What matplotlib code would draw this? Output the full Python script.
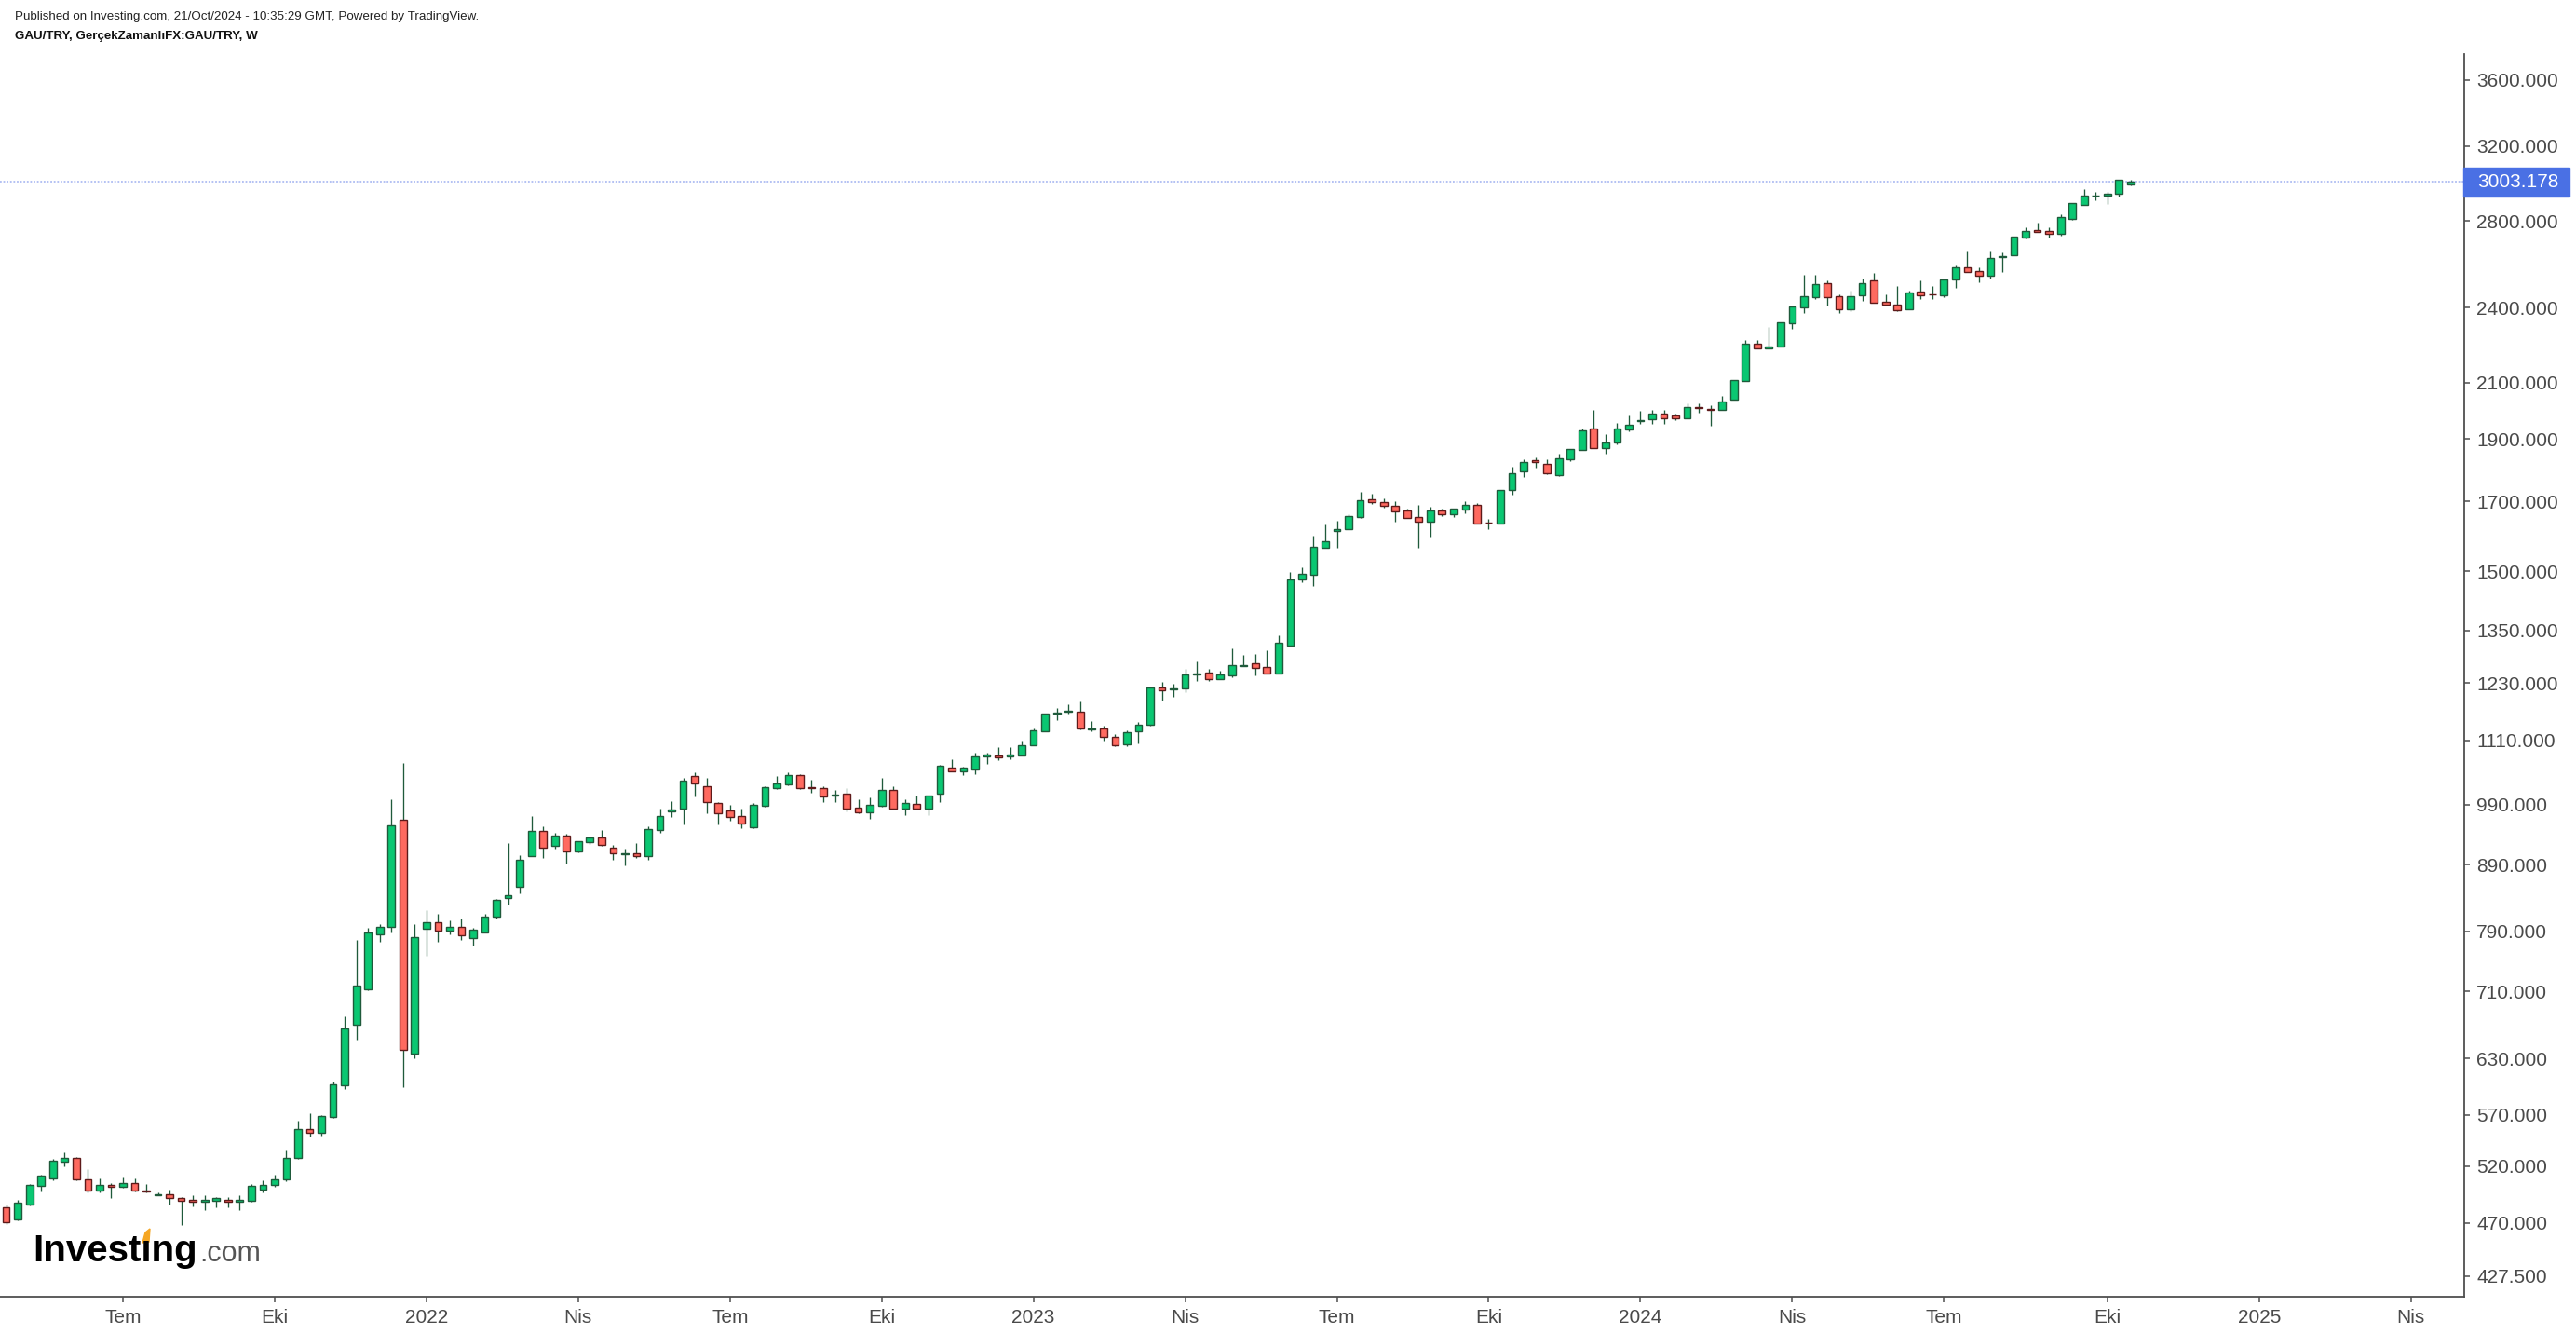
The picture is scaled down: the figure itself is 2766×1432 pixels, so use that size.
#!/usr/bin/env python3

import numpy as np
import pandas as pd
import matplotlib
matplotlib.use("Agg")
import matplotlib.pyplot as plt
import matplotlib.dates as mdates
from matplotlib.patches import Rectangle, Polygon
from matplotlib.ticker import FixedLocator, FixedFormatter, NullLocator

plt.rcParams['font.family'] = ['Liberation Sans', 'DejaVu Sans']

# weekly GAU/TRY candles, first bar week of 2021-04-26
first_week = '2021-04-26'
opens = [483, 473, 486, 502, 509, 524, 528, 508, 498, 503,
         501, 505, 498, 494, 495, 491, 490, 488, 489, 490,
         488, 489, 499, 503, 508, 528, 556, 552, 568, 601,
         669, 713, 786, 797, 964, 636, 794, 803, 791, 797,
         781, 789, 811, 839, 855, 904, 945, 920, 937, 911,
         926, 934, 917, 907, 908, 904, 947, 979, 984, 1042,
         1024, 993, 980, 971, 951, 988, 1019, 1026, 1044, 1021,
         1020, 1006, 1010, 985, 976, 988, 1017, 984, 992, 984,
         1009, 1058, 1050, 1054, 1079, 1080, 1079, 1081, 1100, 1129,
         1165, 1168, 1169, 1133, 1135, 1118, 1103, 1129, 1141, 1220,
         1215, 1218, 1248, 1252, 1239, 1246, 1268, 1274, 1266, 1251,
         1315, 1479, 1492, 1565, 1613, 1618, 1652, 1705, 1698, 1686,
         1672, 1653, 1640, 1672, 1660, 1676, 1688, 1637, 1635, 1733,
         1792, 1830, 1818, 1780, 1833, 1863, 1934, 1869, 1888, 1932,
         1962, 1966, 1988, 1981, 1972, 2010, 2003, 1999, 2039, 2106,
         2250, 2233, 2240, 2336, 2403, 2447, 2509, 2449, 2395, 2455,
         2518, 2425, 2414, 2395, 2468, 2459, 2455, 2523, 2577, 2560,
         2540, 2626, 2635, 2721, 2758, 2751, 2739, 2809, 2882, 2928,
         2929, 2939, 2990]
highs = [486, 490, 504, 512, 527, 533, 529, 517, 509, 505,
         510, 509, 504, 496, 499, 492, 494, 494, 492, 492,
         494, 504, 507, 512, 535, 564, 571, 570, 605, 679,
         778, 795, 801, 1000, 1067, 801, 820, 815, 806, 809,
         795, 815, 837, 925, 905, 971, 952, 942, 940, 928,
         934, 946, 922, 915, 925, 952, 983, 997, 1038, 1049,
         1038, 994, 989, 983, 993, 1024, 1042, 1049, 1045, 1035,
         1024, 1017, 1020, 1000, 1003, 1038, 1024, 1000, 1007, 1006,
         1063, 1073, 1059, 1087, 1087, 1097, 1097, 1110, 1135, 1165,
         1177, 1185, 1190, 1150, 1139, 1123, 1131, 1147, 1220, 1232,
         1228, 1262, 1279, 1262, 1257, 1309, 1292, 1296, 1304, 1339,
         1499, 1510, 1599, 1631, 1641, 1662, 1729, 1723, 1710, 1699,
         1678, 1689, 1683, 1678, 1678, 1699, 1694, 1648, 1734, 1807,
         1831, 1837, 1831, 1849, 1866, 1936, 2001, 1916, 1956, 1982,
         1996, 2001, 2001, 1988, 2023, 2023, 2016, 2051, 2109, 2267,
         2267, 2319, 2339, 2406, 2546, 2546, 2519, 2459, 2476, 2528,
         2554, 2459, 2493, 2476, 2519, 2493, 2525, 2587, 2658, 2579,
         2658, 2648, 2725, 2769, 2794, 2769, 2834, 2892, 2964, 2952,
         2952, 3012, 3012]
lows = [469, 472, 485, 497, 507, 520, 507, 496, 496, 491,
        500, 497, 496, 494, 486, 468, 484, 481, 483, 483,
        481, 488, 496, 501, 506, 527, 548, 549, 567, 597,
        651, 711, 775, 788, 599, 630, 756, 775, 786, 778,
        770, 788, 808, 829, 846, 903, 900, 916, 891, 910,
        923, 920, 897, 888, 900, 897, 941, 969, 956, 1004,
        975, 956, 962, 950, 950, 987, 1018, 1025, 1018, 1011,
        994, 994, 978, 975, 966, 987, 983, 972, 984, 972,
        994, 1050, 1043, 1046, 1064, 1071, 1074, 1080, 1100, 1129,
        1152, 1164, 1133, 1129, 1109, 1099, 1098, 1105, 1140, 1191,
        1199, 1210, 1234, 1234, 1238, 1242, 1268, 1246, 1250, 1250,
        1315, 1472, 1463, 1564, 1564, 1617, 1651, 1691, 1681, 1639,
        1650, 1565, 1597, 1657, 1652, 1665, 1634, 1618, 1634, 1720,
        1774, 1804, 1785, 1779, 1827, 1863, 1869, 1850, 1882, 1926,
        1951, 1951, 1951, 1964, 1972, 1991, 1944, 1999, 2039, 2105,
        2232, 2232, 2239, 2312, 2379, 2437, 2410, 2379, 2386, 2430,
        2420, 2411, 2387, 2395, 2437, 2437, 2446, 2487, 2557, 2513,
        2530, 2556, 2634, 2713, 2746, 2720, 2728, 2808, 2881, 2907,
        2887, 2927, 2985]
closes = [471, 487, 503, 511, 525, 528, 508, 498, 503, 501,
          505, 498, 497, 495, 491, 489, 488, 490, 491, 488,
          490, 502, 503, 508, 528, 556, 552, 569, 602, 665,
          717, 789, 797, 955, 640, 782, 803, 791, 797, 784,
          792, 811, 836, 843, 898, 945, 917, 937, 911, 927,
          934, 921, 908, 908, 904, 948, 971, 982, 1034, 1029,
          995, 975, 969, 957, 989, 1021, 1028, 1044, 1019, 1019,
          1005, 1008, 984, 976, 989, 1017, 984, 993, 984, 1006,
          1062, 1050, 1058, 1079, 1082, 1078, 1082, 1101, 1130, 1165,
          1167, 1170, 1134, 1135, 1118, 1100, 1126, 1142, 1219, 1213,
          1217, 1248, 1250, 1239, 1248, 1270, 1270, 1264, 1251, 1321,
          1479, 1494, 1567, 1582, 1617, 1657, 1704, 1697, 1686, 1670,
          1651, 1640, 1672, 1660, 1677, 1688, 1635, 1636, 1734, 1788,
          1824, 1822, 1786, 1836, 1865, 1928, 1869, 1889, 1934, 1948,
          1965, 1988, 1972, 1972, 2009, 2007, 2001, 2030, 2108, 2251,
          2232, 2240, 2338, 2406, 2449, 2502, 2447, 2395, 2449, 2509,
          2420, 2412, 2388, 2466, 2455, 2456, 2524, 2577, 2557, 2540,
          2620, 2629, 2724, 2750, 2747, 2739, 2822, 2892, 2932, 2932,
          2942, 3012, 3003.178]

last_price = 3003.178

y_ticks = [427.5, 470, 520, 570, 630, 710, 790, 890, 990, 1110, 1230,
           1350, 1500, 1700, 1900, 2100, 2400, 2800, 3200, 3600]
x_tick_dates = ['2021-07-05', '2021-10-04', '2022-01-03', '2022-04-04',
                '2022-07-04', '2022-10-03', '2023-01-02', '2023-04-03',
                '2023-07-03', '2023-10-02', '2024-01-01', '2024-04-01',
                '2024-07-01', '2024-10-07', '2025-01-06', '2025-04-07']
x_tick_labels = ['Tem', 'Eki', '2022', 'Nis', 'Tem', 'Eki', '2023', 'Nis',
                 'Tem', 'Eki', '2024', 'Nis', 'Tem', 'Eki', '2025', 'Nis']

UP_FILL = '#0ac772'
UP_EDGE = '#1f5a3b'
DN_FILL = '#ff6a60'
DN_EDGE = '#5e1a1a'
WICK = '#1f5a3b'
AXIS = '#4f4f4f'
LABEL = '#4a4a4a'

W, H = 2766, 1432


def main():
    o = np.array(opens, dtype=float)
    h = np.array(highs, dtype=float)
    l = np.array(lows, dtype=float)
    c = np.array(closes, dtype=float)
    dates = pd.date_range(first_week, periods=len(c), freq='W-MON')
    x = mdates.date2num(dates.to_pydatetime())

    fig = plt.figure(figsize=(W / 100, H / 100), dpi=100)
    ax = fig.add_axes([0, 40 / H, 2646 / W, 1 - 98 / H])

    up = c >= o
    ax.vlines(x, l, h, color=WICK, lw=0.95, zorder=2)
    bottom = np.minimum(o, c)
    height = np.abs(c - o)
    ax.bar(x[up], height[up], bottom=bottom[up], width=4.3,
           color=UP_FILL, edgecolor=UP_EDGE, lw=1.0, zorder=3)
    ax.bar(x[~up], height[~up], bottom=bottom[~up], width=4.3,
           color=DN_FILL, edgecolor=DN_EDGE, lw=1.0, zorder=3)

    ax.axhline(last_price, color='#aebcf2', lw=1.3, ls=(0, (1, 1)), zorder=1)

    ax.set_yscale('log')
    ax.set_ylim(412.1, 3771)
    start = pd.Timestamp(first_week)
    ax.set_xlim(mdates.date2num(start - pd.Timedelta(days=3.7)),
                mdates.date2num(start + pd.Timedelta(days=1474)))

    ax.yaxis.tick_right()
    ax.yaxis.set_major_locator(FixedLocator(y_ticks))
    ax.yaxis.set_major_formatter(FixedFormatter(['%.3f' % v for v in y_ticks]))
    ax.yaxis.set_minor_locator(NullLocator())
    ax.xaxis.set_major_locator(FixedLocator(
        [mdates.date2num(pd.Timestamp(d)) for d in x_tick_dates]))
    ax.xaxis.set_major_formatter(FixedFormatter(x_tick_labels))
    ax.xaxis.set_minor_locator(NullLocator())

    for s in ['left', 'top']:
        ax.spines[s].set_visible(False)
    for s in ['right', 'bottom']:
        ax.spines[s].set_color(AXIS)
        ax.spines[s].set_linewidth(1.3)
    ax.tick_params(axis='both', direction='out', length=4.5, width=1.1,
                   color=AXIS, labelcolor=LABEL, labelsize=15)
    ax.tick_params(axis='y', pad=5)
    ax.tick_params(axis='x', pad=5)

    # last price tag on the price axis
    y_px = ax.transData.transform((x[-1], last_price))[1]
    fig.add_artist(Rectangle((2645 / W, (y_px - 15.5) / H), 114 / W, 31 / H,
                             transform=fig.transFigure, color='#4a70e4',
                             zorder=5))
    fig.text(2660 / W, y_px / H, '%.3f' % last_price, color='white',
             fontsize=15, va='center', ha='left', zorder=6)

    # header
    fig.text(16 / W, 1 - 18 / H,
             'Published on Investing.com, 21/Oct/2024 - 10:35:29 GMT, '
             'Powered by TradingView.', fontsize=9.6, color='#222222',
             va='center')
    fig.text(16 / W, 1 - 39 / H, 'GAU/TRY, GerçekZamanlıFX:GAU/TRY, W',
             fontsize=9.6, color='#111111', va='center', fontweight='bold')

    # logo
    fig.text(35 / W, 1 - 1354 / H, 'Investıng', fontsize=29,
             fontweight='bold', color='#000000', va='baseline')
    fig.text(214 / W, 1 - 1354 / H, '.com', fontsize=22,
             color='#555555', va='baseline')
    flame = [(153, 1334), (156, 1323), (161, 1319), (160, 1333)]
    fig.add_artist(Polygon([(px / W, 1 - py / H) for px, py in flame],
                           closed=True, transform=fig.transFigure,
                           color='#f5a623'))

    fig.savefig('out.png', dpi=100)


if __name__ == "__main__":
    main()
